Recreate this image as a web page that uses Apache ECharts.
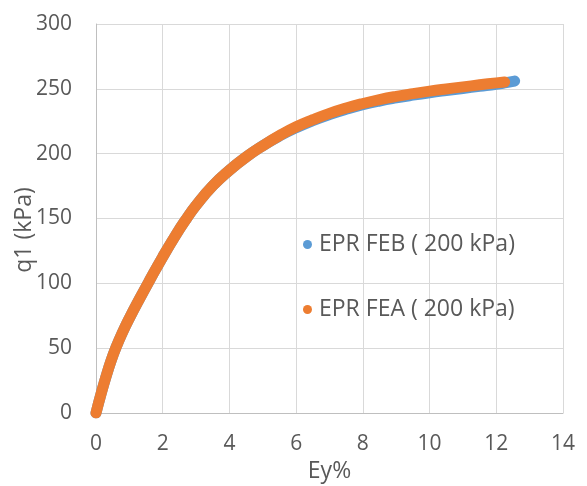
<!DOCTYPE html>
<html>
<head>
<meta charset="utf-8">
<script src="https://cdn.jsdelivr.net/npm/echarts@6/dist/echarts.min.js"></script>
<style>html,body{margin:0;padding:0;background:#fff}#c{width:587px;height:486px}</style>
</head>
<body>
<div id="c"></div>
<script>
var xTicks = [0, 2, 4, 6, 8, 10, 12, 14];
var yTicks = [0, 50, 100, 150, 200, 250, 300];
var seriesNames = ['EPR FEB ( 200 kPa)', 'EPR FEA ( 200 kPa)'];
var xTitle = 'Ey%';
var yTitle = 'q1 (kPa)';
var febData = [[0,0],[0.15,14.6],[0.3,28],[0.45,40.2],[0.6,50.6],[0.8,62.5],[1.0,73.1],[1.3,87.8],[1.6,102],[2.0,120.4],[2.4,137.6],[2.7,149.4],[3.0,160.1],[3.5,175.2],[4.0,187.2],[4.5,197.4],[5.0,206.1],[5.5,213.6],[6.0,220],[6.5,225.5],[7.0,230.2],[7.5,234.2],[8.0,237.7],[8.5,240.6],[9.0,243],[9.5,245.1],[10.0,247],[10.5,248.7],[11.0,250.3],[11.5,251.9],[12.0,253.5],[12.3,254.8],[12.55,256]];
var feaData = [[0,0],[0.15,14.6],[0.3,28],[0.45,40.2],[0.6,50.6],[0.8,62.5],[1.0,73.1],[1.3,87.8],[1.6,102],[2.0,120.4],[2.4,137.6],[2.7,149.4],[3.0,160.1],[3.5,175.2],[4.0,187.2],[4.5,197.4],[5.0,206.1],[5.5,213.9],[6.0,220.7],[6.5,226.2],[7.0,231.1],[7.5,235.2],[8.0,238.7],[8.5,241.7],[9.0,244.2],[9.5,246.3],[10.0,248.2],[10.5,249.9],[11.0,251.5],[11.5,253.1],[12.0,254.6],[12.25,255.3]];

var FONT = 'Open Sans';
var chart = echarts.init(document.getElementById('c'), null, {renderer: 'canvas'});
chart.setOption({
  animation: false,
  backgroundColor: '#ffffff',
  grid: {left: 96, right: 24, top: 24, bottom: 73, containLabel: false, outerBoundsMode: 'none'},
  graphic: [{
    type: 'text',
    x: 24, y: 230,
    rotation: Math.PI / 2,
    style: {text: yTitle, fontFamily: FONT, fontSize: 23, fill: '#595959', align: 'center', verticalAlign: 'middle'}
  }],
  legend: {
    orient: 'vertical',
    left: 298,
    top: 228,
    itemGap: 42,
    itemWidth: 9,
    itemHeight: 9,
    icon: 'circle',
    data: seriesNames,
    textStyle: {fontFamily: FONT, fontSize: 23, color: '#595959', padding: [0, 0, 0, 2]}
  },
  xAxis: {
    type: 'value',
    min: 0, max: 14, interval: 2,
    name: xTitle,
    nameLocation: 'middle',
    nameGap: 45,
    nameTextStyle: {fontFamily: FONT, fontSize: 23, color: '#595959'},
    axisLine: {show: true, lineStyle: {color: '#bfbfbf', width: 1}},
    axisTick: {show: false},
    axisLabel: {margin: 21, fontFamily: FONT, fontSize: 21, color: '#595959',
      formatter: function (v) { return xTicks.indexOf(v) >= 0 ? String(v) : ''; }},
    splitLine: {show: true, lineStyle: {color: '#d9d9d9', width: 1}}
  },
  yAxis: {
    type: 'value',
    min: 0, max: 300, interval: 50,
    axisLine: {show: true, lineStyle: {color: '#bfbfbf', width: 1}},
    axisTick: {show: false},
    axisLabel: {margin: 24, fontFamily: FONT, fontSize: 21, color: '#595959',
      formatter: function (v) { return yTicks.indexOf(v) >= 0 ? String(v) : ''; }},
    splitLine: {show: true, lineStyle: {color: '#d9d9d9', width: 1}}
  },
  series: [
    {
      name: seriesNames[0], type: 'line', data: febData, smooth: 0.5,
      showSymbol: false, symbol: 'circle', color: '#5B9BD5',
      lineStyle: {color: '#5B9BD5', width: 11, cap: 'round', join: 'round'},
      z: 2
    },
    {
      name: seriesNames[1], type: 'line', data: feaData, smooth: 0.5,
      showSymbol: false, symbol: 'circle', color: '#ED7D31',
      lineStyle: {color: '#ED7D31', width: 11, cap: 'round', join: 'round'},
      z: 3
    }
  ]
});
</script>
</body>
</html>
